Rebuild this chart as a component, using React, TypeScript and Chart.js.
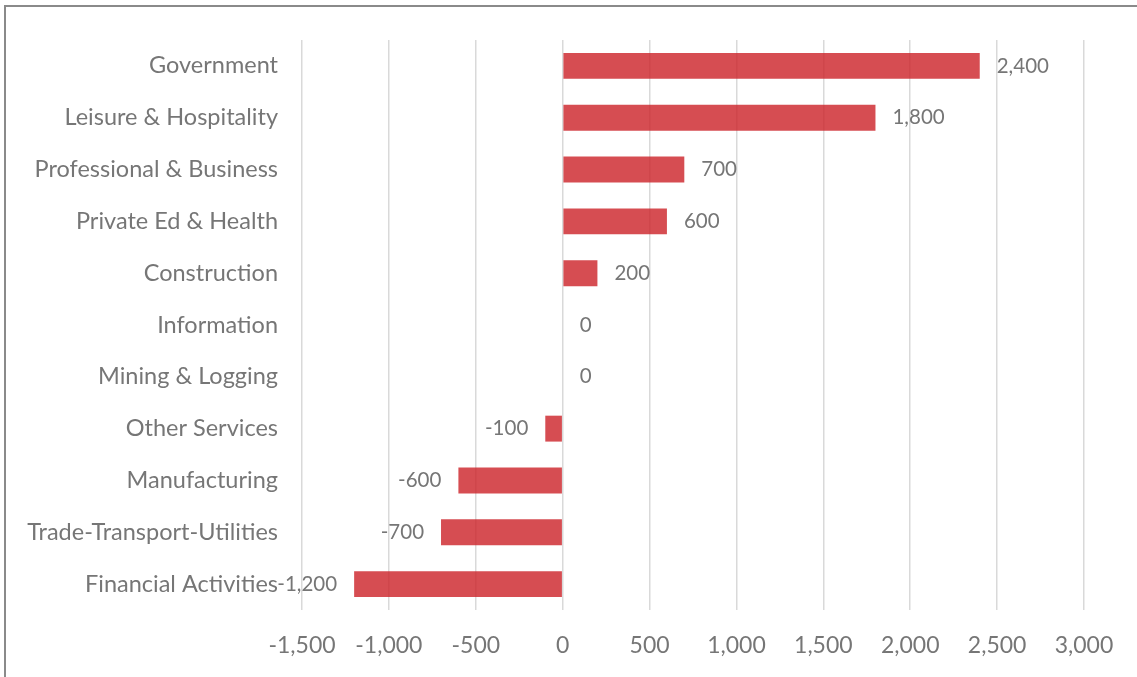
import React, { useEffect, useRef } from "react";
import { Chart, registerables } from "chart.js";

Chart.register(...registerables);

const categories = [
  "Government",
  "Leisure & Hospitality",
  "Professional & Business",
  "Private Ed & Health",
  "Construction",
  "Information",
  "Mining & Logging",
  "Other Services",
  "Manufacturing",
  "Trade-Transport-Utilities",
  "Financial Activities",
];
const values = [2400, 1800, 700, 600, 200, 0, 0, -100, -600, -700, -1200];
const xMin = -1500;
const xMax = 3000;
const xStep = 500;

const FONT = "Lato, 'Open Sans', sans-serif";
const TEXT = "#767676";

const fmt = (v: number) => v.toLocaleString("en-US");

const labelPlugin = {
  id: "barLabels",
  afterDatasetsDraw(chart: any) {
    const ctx = chart.ctx;
    const meta = chart.getDatasetMeta(0);
    ctx.save();
    ctx.font = `20.5px ${FONT}`;
    ctx.fillStyle = TEXT;
    ctx.textBaseline = "middle";
    meta.data.forEach((bar: any, i: number) => {
      const v = values[i];
      if (v >= 0) {
        ctx.textAlign = "left";
        ctx.fillText(fmt(v), bar.x + 17, bar.y);
      } else {
        ctx.textAlign = "right";
        ctx.fillText(fmt(v), bar.x - 17, bar.y);
      }
    });
    ctx.restore();
  },
};

export default function App() {
  const ref = useRef<HTMLCanvasElement>(null);
  useEffect(() => {
    document.body.style.margin = "0";
    document.body.style.overflow = "hidden";
    const chart = new Chart(ref.current!, {
      type: "bar",
      data: {
        labels: categories,
        datasets: [
          {
            data: values,
            backgroundColor: "rgba(204, 32, 39, 0.8)",
            borderWidth: 0,
            categoryPercentage: 0.5,
            barPercentage: 1,
          },
        ],
      },
      options: {
        indexAxis: "y",
        animation: false,
        responsive: false,
        maintainAspectRatio: false,
        layout: { padding: { left: 0, right: 53, top: 40, bottom: 0 } },
        plugins: { legend: { display: false }, tooltip: { enabled: false } },
        scales: {
          x: {
            min: xMin,
            max: xMax,
            border: { display: false },
            grid: { color: "#d9d9d9", lineWidth: 1.5, drawTicks: false },
            ticks: {
              stepSize: xStep,
              padding: 22,
              color: TEXT,
              font: { family: FONT, size: 23 },
              callback: (v: any) => fmt(Number(v)),
            },
            afterFit: (s: any) => {
              s.height = 67;
            },
          },
          y: {
            border: { display: false },
            grid: { display: false, drawTicks: false, tickLength: 0 },
            ticks: {
              padding: 24,
              color: TEXT,
              font: { family: FONT, size: 23.5 },
            },
            afterFit: (s: any) => {
              s.width = 302;
            },
          },
        },
      },
      plugins: [labelPlugin],
    });
    return () => chart.destroy();
  }, []);
  return (
    <div style={{ position: "fixed", left: 0, top: 0, width: 1137, height: 677, background: "#fff" }}>
      <div
        style={{
          position: "absolute",
          left: 4,
          top: 5,
          width: 1200,
          height: 700,
          borderTop: "2px solid #8a8a8a",
          borderLeft: "2px solid #8a8a8a",
        }}
      />
      <canvas ref={ref} width={1137} height={677} style={{ position: "absolute", left: 0, top: 0, width: 1137, height: 677 }} />
    </div>
  );
}
